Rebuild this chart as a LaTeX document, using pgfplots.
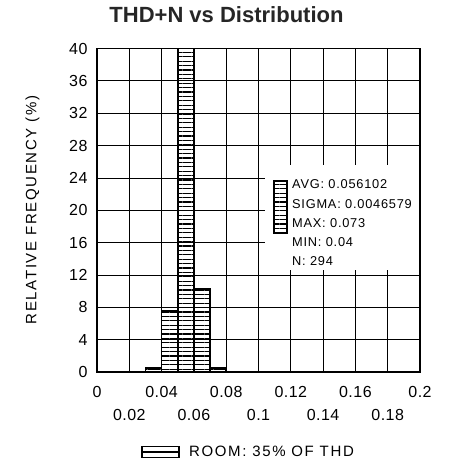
\documentclass[border=0pt]{standalone}
\usepackage{pgfplots}
\pgfplotsset{compat=1.18}
\usepackage{fontspec}
\setmainfont{Liberation Sans}
\newfontfamily\tickfont[LetterSpace=3]{Liberation Sans}
\newfontfamily\labelfont[LetterSpace=11]{Liberation Sans}
\newfontfamily\statfont[LetterSpace=6]{Liberation Sans}
\usetikzlibrary{patterns.meta}
\tikzset{hatch/.style={pattern={Lines[angle=0,distance=4.4pt,line width=1.2pt]}}}

\begin{document}
\begin{tikzpicture}
\path[use as bounding box] (-97pt,-94pt) rectangle (357pt,372pt);
\begin{axis}[
    width=323pt, height=323.5pt, scale only axis,
    xmin=0, xmax=0.2, ymin=0, ymax=40,
    xtick={0,0.04,0.08,0.12,0.16,0.2},
    xticklabels={0,0.04,0.08,0.12,0.16,0.2},
    extra x ticks={0.02,0.06,0.1,0.14,0.18},
    extra x tick labels={0.02,0.06,0.1,0.14,0.18},
    extra x tick style={grid=major, xticklabel style={yshift=-23pt}},
    ytick={0,4,8,12,16,20,24,28,32,36,40},
    yticklabels={0,4,8,12,16,20,24,28,32,36,40},
    grid=major,
    grid style={black, line width=0.8pt},
    major tick length=0pt,
    axis line style={line width=1.2pt},
    tick label style={font=\tickfont\fontsize{16}{18}\selectfont},
    xticklabel style={yshift=-11pt},
    yticklabel style={xshift=-6pt},
    clip=false,
    legend style={draw=none, fill=none, at={(0.137,-0.247)}, anchor=west,
        inner sep=0pt, font=\labelfont\fontsize{15}{17}\selectfont,
        /tikz/every odd column/.append style={column sep=7pt}},
]
\addplot[ybar interval, draw=black, line width=1.8pt, hatch,
    legend image code/.code={
        \draw[black, line width=1.6pt, fill=white] (0pt,-5.6pt) rectangle (37pt,5.6pt);
        \draw[black, line width=1.6pt] (0pt,0pt) -- (37pt,0pt);}]
    coordinates {(0.03,0.5)(0.04,7.5)(0.05,40)(0.06,10.3)(0.07,0.5)(0.08,0.5)};
\addlegendentry{ROOM: 35\% OF THD}
\end{axis}
% statistics box
\fill[white] (168pt,102pt) rectangle (322.3pt,207pt);
\draw[hatch, line width=1.5pt] (177pt,139pt) rectangle (190pt,191pt);
\begin{scope}[every node/.style={anchor=base west, inner sep=0pt, font=\statfont\fontsize{12.8}{15}\selectfont}]
\node at (195pt,183.5pt) {AVG: 0.056102};
\node at (195pt,163.5pt) {SIGMA: 0.0046579};
\node at (195pt,144.5pt) {MAX: 0.073};
\node at (195pt,125.5pt) {MIN: 0.04};
\node at (195pt,106.5pt) {N: 294};
\end{scope}
\node[rotate=90, font=\labelfont\fontsize{15}{17}\selectfont] at (-64.5pt,162pt) {RELATIVE FREQUENCY (\%)};
\node[font=\bfseries\fontsize{22}{26}\selectfont, text=black!85] at (129.5pt,357pt) {THD+N vs Distribution};
\end{tikzpicture}
\end{document}
